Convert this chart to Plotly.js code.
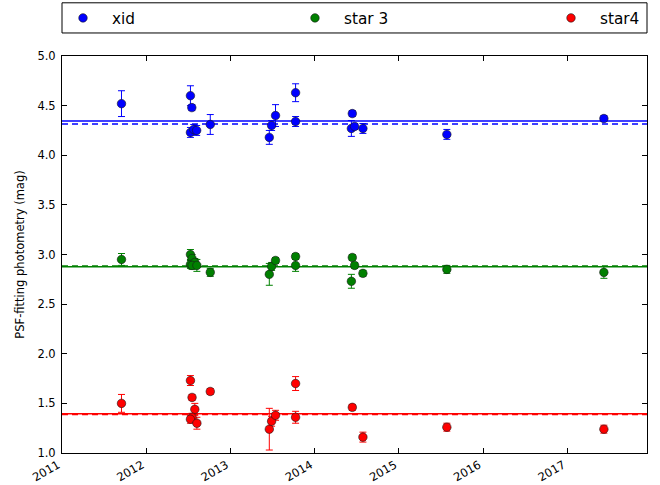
<!DOCTYPE html>
<html>
<head>
<meta charset="utf-8">
<script src="https://cdn.plot.ly/plotly-3.0.1.min.js"></script>
<style>html,body{margin:0;padding:0;background:#fff;}#chart{width:660px;height:485px;}</style>
</head>
<body>
<div id="chart"></div>
<script>
// ---- data ----
const seriesNames = ['xid', 'star 3', 'star4'];

const xidDates = ['2011-09-16','2012-07-11','2012-07-17','2012-07-11','2012-07-25','2012-08-07','2012-10-05',
  '2013-06-18','2013-06-28','2013-07-15','2013-10-10','2013-10-10','2014-06-13','2014-06-09','2014-06-23',
  '2014-07-29','2015-07-28','2017-06-08'];
const xidMag = [4.52,4.60,4.48,4.23,4.26,4.25,4.31,4.18,4.30,4.40,4.63,4.34,4.42,4.27,4.29,4.27,4.21,4.37];
const xidErr = [0.13,0.10,0.03,0.05,0.05,0.05,0.10,0.07,0.05,0.11,0.09,0.05,0.03,0.08,0.03,0.05,0.05,0.03];

const star3Dates = ['2011-09-16','2012-07-11','2012-07-18','2012-07-11','2012-07-30','2012-07-18','2012-08-08',
  '2012-10-05','2013-06-18','2013-06-28','2013-07-15','2013-10-10','2013-10-10','2014-06-13','2014-06-09',
  '2014-06-23','2014-07-29','2015-07-28','2017-06-08'];
const star3Mag = [2.95,3.00,2.96,2.90,2.92,2.89,2.89,2.82,2.80,2.88,2.94,2.98,2.89,2.97,2.73,2.89,2.81,2.85,2.82];
const star3Err = [0.06,0.05,0.04,0.04,0.04,0.04,0.06,0.04,0.11,0.04,0.03,0.03,0.06,0.03,0.07,0.03,0.03,0.04,0.06];

const star4Dates = ['2011-09-16','2012-07-11','2012-07-18','2012-07-30','2012-07-18','2012-07-11','2012-08-08',
  '2012-10-05','2013-06-18','2013-06-28','2013-07-15','2013-10-10','2013-10-10','2014-06-13','2014-07-29',
  '2015-07-28','2017-06-08'];
const star4Mag = [1.50,1.73,1.56,1.44,1.36,1.34,1.30,1.62,1.24,1.32,1.38,1.70,1.36,1.46,1.16,1.26,1.24];
const star4Err = [0.09,0.05,0.03,0.06,0.04,0.04,0.06,0.03,0.21,0.05,0.05,0.07,0.06,0.03,0.05,0.04,0.04];

// horizontal reference levels (solid and dashed) per series
const solidLevels  = [4.345, 2.877, 1.395];
const dashedLevels = [4.315, 2.885, 1.388];

const colors = ['#0000ff', '#008000', '#ff0000'];
const xRange = ['2011-01-01', '2017-12-12'];
const yRange = [1.0, 5.0];
const yTitle = 'PSF-fitting photometry (mag)';

// ---- build traces ----
const allDates = [xidDates, star3Dates, star4Dates];
const allMag = [xidMag, star3Mag, star4Mag];
const allErr = [xidErr, star3Err, star4Err];
const legendIds = ['legend', 'legend2', 'legend3'];

const traces = seriesNames.map((name, i) => ({
  type: 'scatter', mode: 'markers', name: name,
  x: allDates[i], y: allMag[i],
  error_y: {type: 'data', array: allErr[i], visible: true, color: colors[i], thickness: 1, width: 3.5},
  marker: {color: colors[i], size: 8.5, line: {color: '#1a1a1a', width: 0.6}},
  legend: legendIds[i],
  cliponaxis: false
}));

const shapes = [];
seriesNames.forEach((n, i) => {
  shapes.push({type: 'line', xref: 'paper', yref: 'y', x0: 0, x1: 1, y0: solidLevels[i], y1: solidLevels[i],
    line: {color: colors[i], width: 1.5}, layer: 'below'});
  shapes.push({type: 'line', xref: 'paper', yref: 'y', x0: 0, x1: 1, y0: dashedLevels[i], y1: dashedLevels[i],
    line: {color: colors[i], width: 1.5, dash: '6px,4px'}, layer: 'below'});
});
// legend frame
shapes.push({type: 'rect', xref: 'paper', yref: 'paper', x0: 0, x1: 1, y0: 1.058, y1: 1.134,
  line: {color: '#000', width: 1}, fillcolor: 'rgba(0,0,0,0)'});

const legendXs = [0.0818, 0.4333, 0.8212];
const font = {family: 'DejaVu Sans, sans-serif', color: '#000'};
function legendCfg(x) {
  return {x: x, xref: 'container', xanchor: 'left', y: 0.963, yref: 'container', yanchor: 'middle',
    orientation: 'h', itemwidth: 48,
    bgcolor: 'rgba(0,0,0,0)', borderwidth: 0, font: {family: font.family, size: 15.3, color: '#000'}};
}

const layout = {
  width: 660, height: 485,
  margin: {l: 62, r: 13, t: 56, b: 32, pad: 0, autoexpand: false},
  paper_bgcolor: '#fff', plot_bgcolor: '#fff',
  font: {family: font.family, size: 11.5, color: '#000'},
  showlegend: true,
  legend: legendCfg(legendXs[0]),
  legend2: legendCfg(legendXs[1]),
  legend3: legendCfg(legendXs[2]),
  xaxis: {
    type: 'date', range: xRange, tick0: '2011-01-01', dtick: 'M12', tickformat: '%Y',
    tickangle: -30, ticks: 'inside', ticklen: 5, tickcolor: '#000', tickwidth: 1,
    ticklabelshift: -4,
    showline: true, linecolor: '#000', linewidth: 1, mirror: 'ticks',
    showgrid: false, zeroline: false, tickfont: {size: 11.5, color: '#000'}
  },
  yaxis: {
    range: yRange, dtick: 0.5, tick0: 1, tickformat: '.1f',
    ticks: 'inside', ticklen: 5, tickcolor: '#000', tickwidth: 1,
    ticklabelstandoff: 3,
    showline: true, linecolor: '#000', linewidth: 1, mirror: 'ticks',
    showgrid: false, zeroline: false, tickfont: {size: 11.5, color: '#000'},
    title: {text: yTitle, font: {size: 11.5, color: '#000'}, standoff: 10}
  },
  shapes: shapes
};

Plotly.newPlot('chart', traces, layout, {displayModeBar: false, staticPlot: true});
</script>
</body>
</html>
